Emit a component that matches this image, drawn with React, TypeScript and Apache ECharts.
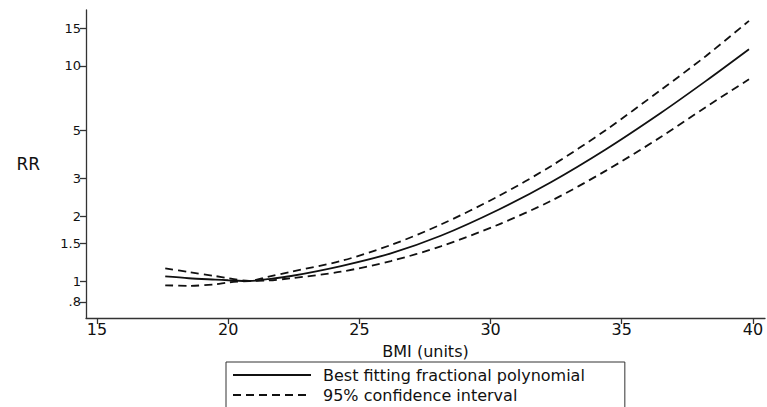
import React, { useEffect, useRef } from "react";
import * as echarts from "echarts";

const bmi = [17.6, 18.5, 19.5, 20.0, 20.8, 21.5, 22.4, 24.3, 26.2, 28.1, 30.3, 32.3, 34.4, 36.5, 38.2, 39.85];
const rrFit = [1.05, 1.03, 1.015, 1.008, 1.0, 1.02, 1.055, 1.174, 1.345, 1.623, 2.145, 2.88, 4.1, 6.06, 8.5, 11.96];
const rrUpper = [1.146, 1.1, 1.055, 1.03, 1.0, 1.045, 1.105, 1.239, 1.47, 1.829, 2.48, 3.42, 5.04, 7.75, 11.1, 16.2];
const rrLower = [0.955, 0.95, 0.965, 0.985, 1.0, 1.005, 1.03, 1.105, 1.238, 1.449, 1.83, 2.357, 3.26, 4.68, 6.43, 8.67];
const yTicks = [0.8, 1, 1.5, 2, 3, 5, 10, 15];
const xTicks = [15, 20, 25, 30, 35, 40];
const fitName = "Best fitting fractional polynomial";
const ciName = "95% confidence interval";

const FONT = "DejaVu Sans";
const INK = "#111";

export default function App() {
  const ref = useRef<HTMLDivElement>(null);
  useEffect(() => {
    document.body.style.margin = "0";
    const chart = echarts.init(ref.current!, null, { renderer: "svg" });
    const pts = (ys: number[]) => bmi.map((x, i) => [x, ys[i]]);
    chart.setOption({
      animation: false,
      backgroundColor: "#fff",
      grid: { left: 86, right: 2, top: 10, bottom: 89 },
      xAxis: {
        type: "value",
        min: 14.58,
        max: 40.46,
        name: "BMI (units)",
        nameLocation: "middle",
        nameGap: 25,
        nameTextStyle: { fontFamily: FONT, fontSize: 16, color: INK },
        axisLine: { onZero: false, lineStyle: { color: "#333", width: 1.3 } },
        axisTick: { customValues: xTicks, length: 6, lineStyle: { color: "#333", width: 1.3 } },
        axisLabel: { customValues: xTicks, fontFamily: FONT, fontSize: 16, color: INK, margin: 3 },
        splitLine: { show: false },
      },
      yAxis: {
        type: "log",
        min: 0.673,
        max: 18.2,
        name: "RR",
        nameLocation: "middle",
        nameRotate: 0,
        nameGap: 46,
        nameTextStyle: { fontFamily: FONT, fontSize: 17, color: INK, padding: [0, 0, 12, 0] },
        axisLine: { onZero: false, lineStyle: { color: "#333", width: 1.3 } },
        axisTick: { customValues: yTicks, length: 6, lineStyle: { color: "#333", width: 1.3 } },
        axisLabel: {
          customValues: yTicks,
          fontFamily: FONT,
          fontSize: 13,
          color: INK,
          margin: 5,
          formatter: (v: number) => (v < 1 ? String(v).replace(/^0/, "") : String(v)),
        },
        splitLine: { show: false },
      },
      legend: {
        orient: "vertical",
        left: 226,
        top: 362,
        height: 40,
        padding: [5, 40, 12, 6],
        itemGap: 4,
        itemWidth: 78,
        itemHeight: 16,
        borderColor: "#333",
        borderWidth: 1,
        data: [fitName, ciName],
        itemStyle: { opacity: 0 },
        textStyle: { fontFamily: FONT, fontSize: 16, color: INK, padding: [0, 0, 0, 7] },
      },
      series: [
        {
          name: fitName,
          type: "line",
          data: pts(rrFit),
          smooth: 0.3,
          symbol: "none",
          itemStyle: { color: INK },
          lineStyle: { color: INK, width: 1.8 },
        },
        {
          name: ciName,
          type: "line",
          data: pts(rrUpper),
          smooth: 0.3,
          symbol: "none",
          itemStyle: { color: INK },
          lineStyle: { color: INK, width: 1.8, type: [8, 5] },
        },
        {
          name: ciName,
          type: "line",
          data: pts(rrLower),
          smooth: 0.3,
          symbol: "none",
          itemStyle: { color: INK },
          lineStyle: { color: INK, width: 1.8, type: [8, 5] },
        },
      ],
    });
    return () => chart.dispose();
  }, []);
  return <div ref={ref} style={{ position: "absolute", left: 0, top: 0, width: 767, height: 407 }} />;
}
